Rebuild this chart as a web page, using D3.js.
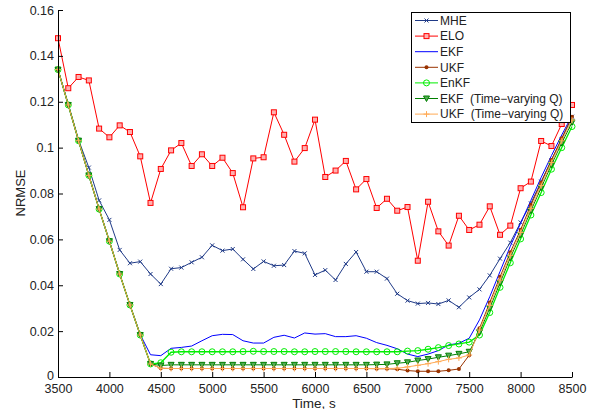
<!DOCTYPE html>
<html>
<head>
<meta charset="utf-8">
<script src="https://cdn.jsdelivr.net/npm/d3@7"></script>
<style>
  body { margin: 0; background: #fff; }
  text { font-family: "Liberation Sans", Arial, sans-serif; fill: #222; }
</style>
</head>
<body>
<div id="root"></div>
<script>
// time axis, one sample each 100 s
const times = d3.range(3500, 8501, 100);

const mhe = [0.134, 0.119, 0.1034, 0.0913, 0.0770, 0.0685, 0.0554, 0.0496, 0.0503, 0.0449,
  0.0405, 0.0472, 0.0477, 0.0500, 0.0522, 0.0574, 0.0551, 0.0558, 0.0513, 0.0471,
  0.0504, 0.0485, 0.0488, 0.0549, 0.0539, 0.0445, 0.0466, 0.0423, 0.0493, 0.0545,
  0.0459, 0.0459, 0.0429, 0.0363, 0.0333, 0.0320, 0.0323, 0.0318, 0.0334, 0.0304,
  0.0347, 0.0382, 0.0443, 0.0516, 0.0586, 0.0674, 0.0757, 0.0852, 0.0946, 0.1036,
  0.1135];

const elo = [0.1477, 0.1259, 0.1308, 0.1293, 0.1083, 0.1045, 0.1097, 0.1068, 0.0962, 0.0759,
  0.0907, 0.0988, 0.1020, 0.0920, 0.0971, 0.0920, 0.0956, 0.0889, 0.0740, 0.0953,
  0.0958, 0.1154, 0.1056, 0.0939, 0.0998, 0.1122, 0.0872, 0.0900, 0.0942, 0.0818,
  0.0863, 0.0737, 0.0777, 0.0725, 0.0741, 0.0507, 0.0764, 0.0635, 0.0573, 0.0703,
  0.0641, 0.0664, 0.0744, 0.0620, 0.0660, 0.0823, 0.0852, 0.1029, 0.1007, 0.1103,
  0.1186];

const ekf = [0.134, 0.1186, 0.1030, 0.0879, 0.0732, 0.0592, 0.0449, 0.0314, 0.0185, 0.0097,
  0.0093, 0.0125, 0.0129, 0.0135, 0.0158, 0.0180, 0.0186, 0.0185, 0.0158, 0.0148,
  0.0148, 0.0173, 0.0182, 0.0170, 0.0192, 0.0187, 0.0189, 0.0176, 0.0176, 0.0180,
  0.0169, 0.0150, 0.0138, 0.0123, 0.0100, 0.0089, 0.0100, 0.0115, 0.0140, 0.0147,
  0.0169, 0.0249, 0.0350, 0.0460, 0.0570, 0.0670, 0.0770, 0.0870, 0.0965, 0.1055,
  0.1140];

const ukf = [0.134, 0.1186, 0.1030, 0.0879, 0.0732, 0.0592, 0.0449, 0.0314, 0.0183, 0.0057,
  0.0038, 0.0037, 0.0037, 0.0037, 0.0037, 0.0037, 0.0037, 0.0037, 0.0037, 0.0037,
  0.0037, 0.0037, 0.0037, 0.0037, 0.0037, 0.0037, 0.0037, 0.0037, 0.0037, 0.0037,
  0.0037, 0.0036, 0.0036, 0.0034, 0.0028, 0.0025, 0.0025, 0.0025, 0.0029, 0.0035,
  0.0095, 0.0212, 0.0325, 0.0437, 0.0544, 0.0642, 0.0750, 0.0847, 0.0946, 0.1041,
  0.1135];

const enkf = [0.134, 0.1186, 0.1030, 0.0879, 0.0732, 0.0592, 0.0449, 0.0314, 0.0183, 0.0057,
  0.0062, 0.0108, 0.0110, 0.0110, 0.0110, 0.0110, 0.0110, 0.0110, 0.0111, 0.0112,
  0.0111, 0.0111, 0.0111, 0.0110, 0.0110, 0.0111, 0.0111, 0.0111, 0.0111, 0.0110,
  0.0110, 0.0110, 0.0110, 0.0110, 0.0113, 0.0115, 0.0121, 0.0128, 0.0137, 0.0144,
  0.0152, 0.0183, 0.0281, 0.0391, 0.0498, 0.0602, 0.0706, 0.0804, 0.0906, 0.1000,
  0.1092];

const ekfTv = [0.134, 0.1186, 0.1030, 0.0879, 0.0732, 0.0592, 0.0449, 0.0314, 0.0183, 0.0057,
  0.0050, 0.0053, 0.0053, 0.0053, 0.0053, 0.0053, 0.0053, 0.0053, 0.0053, 0.0053,
  0.0053, 0.0053, 0.0053, 0.0053, 0.0053, 0.0053, 0.0053, 0.0053, 0.0053, 0.0053,
  0.0053, 0.0054, 0.0055, 0.0060, 0.0064, 0.0072, 0.0078, 0.0086, 0.0093, 0.0101,
  0.0110, 0.0195, 0.0300, 0.0410, 0.0520, 0.0620, 0.0725, 0.0825, 0.0925, 0.1020,
  0.1110];

const ukfTv = [0.134, 0.1186, 0.1030, 0.0879, 0.0732, 0.0592, 0.0449, 0.0314, 0.0183, 0.0057,
  0.0038, 0.0037, 0.0037, 0.0037, 0.0037, 0.0037, 0.0037, 0.0037, 0.0037, 0.0037,
  0.0037, 0.0037, 0.0037, 0.0037, 0.0037, 0.0037, 0.0037, 0.0037, 0.0037, 0.0037,
  0.0037, 0.0037, 0.0037, 0.0038, 0.0044, 0.0051, 0.0058, 0.0067, 0.0077, 0.0083,
  0.0096, 0.0205, 0.0312, 0.0422, 0.0530, 0.0630, 0.0735, 0.0835, 0.0935, 0.1030,
  0.1120];

const seriesNames = ["MHE", "ELO", "EKF", "UKF", "EnKF", "EKF  (Time\u2212varying Q)", "UKF  (Time\u2212varying Q)"];
const seriesValues = [mhe, elo, ekf, ukf, enkf, ekfTv, ukfTv];
const seriesColors = ["#1f3a87", "#ff0000", "#0000ff", "#993300", "#00ee00", "#008000", "#ffaa55"];
const seriesMarkers = ["x", "square", "dot", "disc", "circle", "triangle", "plus"];

const xTicks = [3500, 4000, 4500, 5000, 5500, 6000, 6500, 7000, 7500, 8000, 8500];
const yTicks = [0, 0.02, 0.04, 0.06, 0.08, 0.1, 0.12, 0.14, 0.16];

const outerWidth = 600;
const outerHeight = 409;

let x = d3.scaleLinear().domain([3500, 8500]).range([58, 572]);
let y = d3.scaleLinear().domain([0, 0.16]).range([377, 10]);

let svg = d3.select("#root")
            .append("svg")
            .attr("width", outerWidth)
            .attr("height", outerHeight);

// draws one marker of given kind at (0,0) inside g
function drawMarker(g, kind, color) {
    if (kind == "x") {
        g.append("path").attr("d", "M-2,-2L2,2M-2,2L2,-2")
         .attr("stroke", color).attr("stroke-width", 1).attr("fill", "none");
    } else if (kind == "square") {
        g.append("rect").attr("x", -2.5).attr("y", -2.5).attr("width", 5).attr("height", 5)
         .attr("stroke", color).attr("stroke-width", 1).attr("fill", "#ffb0b0");
    } else if (kind == "disc") {
        g.append("circle").attr("r", 2).attr("fill", color);
    } else if (kind == "circle") {
        g.append("circle").attr("r", 3).attr("fill", "none")
         .attr("stroke", color).attr("stroke-width", 1);
    } else if (kind == "triangle") {
        g.append("path").attr("d", "M-3,-2.5L3,-2.5L0,3Z")
         .attr("stroke", color).attr("stroke-width", 1).attr("fill", "#55aa55");
    } else if (kind == "plus") {
        g.append("path").attr("d", "M-3,0L3,0M0,-3L0,3")
         .attr("stroke", color).attr("stroke-width", 1).attr("fill", "none");
    }
}

let line = d3.line().x(d => x(d[0])).y(d => y(d[1]));

seriesValues.forEach((vals, i) => {
    let pts = times.map((t, j) => [t, vals[j]]);
    let g = svg.append("g").attr("class", "series");
    g.append("path")
        .attr("d", line(pts))
        .attr("fill", "none")
        .attr("stroke", seriesColors[i])
        .attr("stroke-width", i == 4 ? 1.3 : 1);
    g.selectAll(".m")
        .data(pts)
        .enter().append("g")
        .attr("class", "m")
        .attr("transform", d => `translate(${x(d[0])},${y(d[1])})`)
        .each(function() { drawMarker(d3.select(this), seriesMarkers[i], seriesColors[i]); });
});

let yAxis = d3.axisLeft(y).tickValues(yTicks)
              .tickFormat(d => d == 0 ? "0" : String(+d.toFixed(2)))
              .tickSizeInner(-5).tickSizeOuter(0).tickPadding(4);
let xAxis = d3.axisBottom(x).tickValues(xTicks)
              .tickFormat(d => String(d))
              .tickSizeInner(-5).tickSizeOuter(0).tickPadding(7);

svg.append("g").attr("class", "y axis")
    .attr("transform", "translate(58,0)")
    .call(yAxis);
svg.append("g").attr("class", "x axis")
    .attr("transform", "translate(0,377)")
    .call(xAxis);

svg.selectAll(".axis text").style("font-size", "12.5px").attr("fill", "#222")
    .style("font-family", "'Liberation Sans', Arial, sans-serif");
svg.selectAll(".axis path, .axis line").attr("stroke", "#000");

// nudge the "0" label so it does not sit on top of "3500"
svg.selectAll(".y.axis .tick text").filter(d => d == 0).attr("dy", "0.2em");

svg.append("text")
    .attr("transform", "translate(25,193) rotate(-90)")
    .style("text-anchor", "middle")
    .style("font-size", "13px")
    .text("NRMSE");

svg.append("text")
    .attr("x", 314)
    .attr("y", 407.5)
    .style("text-anchor", "middle")
    .style("font-size", "13.5px")
    .text("Time, s");

// legend
let legend = svg.append("g").attr("class", "legend");
legend.append("rect")
    .attr("x", 411.5).attr("y", 12.5)
    .attr("width", 159).attr("height", 110)
    .attr("fill", "#fff").attr("stroke", "#000").attr("stroke-width", 1);

seriesNames.forEach((name, i) => {
    let ly = 20.5 + i * 15.6;
    legend.append("line")
        .attr("x1", 415).attr("x2", 438)
        .attr("y1", ly).attr("y2", ly)
        .attr("stroke", seriesColors[i]).attr("stroke-width", 1);
    let mg = legend.append("g").attr("transform", `translate(426.5,${ly})`);
    drawMarker(mg, seriesMarkers[i], seriesColors[i]);
    legend.append("text")
        .attr("x", 440).attr("y", ly + 4.3)
        .style("font-size", "12px")
        .style("white-space", "pre")
        .text(name);
});
</script>
</body>
</html>
